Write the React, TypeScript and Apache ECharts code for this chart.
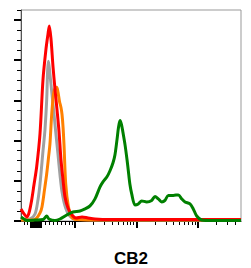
import React, { useEffect, useRef } from "react";
import * as echarts from "echarts";

// x values are in log10 display units (logicle-like axis), y values are event counts
const redX = [1.122, 1.171, 1.22, 1.252, 1.296, 1.333, 1.377, 1.431, 1.48, 1.528, 1.561, 1.582, 1.61, 1.642, 1.675, 1.707, 1.74, 1.772, 1.805, 1.837, 1.886, 1.951, 2.016, 2.114, 2.211, 2.325, 2.569, 3.057, 3.545, 4.033, 4.699];
const redY = [12, 7, 4, 8, 21, 36, 54, 87, 141, 171, 186, 194, 181, 154, 131, 111, 89, 61, 41, 24, 13, 6, 3, 4, 3, 2, 1.5, 1.5, 1.5, 1.5, 1.5];

const grayX = [1.122, 1.268, 1.35, 1.398, 1.431, 1.48, 1.512, 1.54, 1.556, 1.569, 1.593, 1.626, 1.659, 1.691, 1.724, 1.756, 1.789, 1.837, 1.902, 2.0, 2.5, 3.5, 4.699];
const grayY = [1, 2, 7, 21, 37, 70, 91, 121, 151, 159, 146, 126, 106, 86, 66, 46, 29, 15, 6, 2, 1, 1, 1];

const orangeX = [1.122, 1.317, 1.377, 1.431, 1.463, 1.504, 1.54, 1.569, 1.593, 1.621, 1.65, 1.675, 1.702, 1.724, 1.748, 1.772, 1.789, 1.805, 1.821, 1.849, 1.891, 1.946, 2.016, 2.5, 3.5, 4.699];
const orangeY = [1, 1, 3, 8, 14, 31, 47, 63, 77, 106, 126, 132, 133, 128, 119, 113, 106, 94, 76, 37, 15, 4, 1.5, 1, 1, 1];

const greenX = [1.122, 1.171, 1.22, 1.35, 1.48, 1.54, 1.577, 1.675, 1.756, 1.865, 1.967, 2.081, 2.163, 2.244, 2.325, 2.407, 2.455, 2.52, 2.569, 2.618, 2.65, 2.683, 2.707, 2.732, 2.756, 2.78, 2.813, 2.846, 2.867, 2.894, 2.922, 2.976, 3.029, 3.085, 3.166, 3.247, 3.301, 3.354, 3.41, 3.463, 3.517, 3.598, 3.68, 3.735, 3.789, 3.87, 3.923, 3.979, 4.06, 4.223, 4.699];
const greenY = [4, 2, 0.5, 1, 1.5, 5, 2, 0.5, 2, 6, 9, 10, 12, 15, 22, 34, 39, 44, 50, 58, 66, 81, 93, 100, 96, 88, 76, 61, 50, 36, 27, 16, 17, 20, 19, 20.5, 24.5, 22, 19, 20.5, 25.5, 25.5, 26, 22, 19, 17, 12, 5, 1, 0.5, 0.5];

// axis tick positions
const xMin = 1.122;
const xMax = 4.699;
const xMajorTicks = [1.285, 1.317, 1.35, 1.382, 1.415, 1.447, 2, 3, 4];
const xLeftMinorTicks = [1.171, 1.22, 1.512, 1.577, 1.642, 1.707, 1.772, 1.837, 1.902, 1.951];
const decades = [2, 3, 4];
const decadeMultipliers = [2, 3, 4, 5, 6, 7, 8, 9];
const yMax = 210;
const yMajorTicks = [0, 40, 80, 120, 160, 200];
const yMinorTicks = [10, 20, 30, 50, 60, 70, 90, 100, 110, 130, 140, 150, 170, 180, 190, 210];
const xTitle = "CB2";

const pairs = (xs: number[], ys: number[]) => xs.map((x, i) => [x, ys[i]]);

export default function App() {
  const ref = useRef<HTMLDivElement>(null);
  useEffect(() => {
    if (!ref.current) return;
    const chart = echarts.init(ref.current, null, { renderer: "svg" });
    const xMinor: number[] = [...xLeftMinorTicks];
    decades.forEach((d) =>
      decadeMultipliers.forEach((k) => {
        const v = d + Math.log10(k);
        if (v < xMax - 0.01) xMinor.push(v);
      })
    );
    const font = 'Arial, "Liberation Sans", sans-serif';
    const lineSeries = (name: string, color: string, xs: number[], ys: number[]) => ({
      name,
      type: "line",
      data: pairs(xs, ys),
      showSymbol: false,
      smooth: 0.3,
      xAxisIndex: 0,
      yAxisIndex: 0,
      lineStyle: { color, width: 3 },
      itemStyle: { color },
    });
    chart.setOption({
      animation: false,
      grid: {
        left: 21,
        right: 10,
        top: 10,
        bottom: 47,
        show: true,
        borderColor: "#999",
        borderWidth: 1,
        containLabel: false,
        outerBoundsMode: "none",
      },
      xAxis: [
        {
          type: "value",
          min: xMin,
          max: xMax,
          position: "bottom",
          axisLine: { show: true, lineStyle: { color: "#000", width: 1 } },
          axisTick: { show: true, customValues: xMajorTicks, length: 7, lineStyle: { color: "#000", width: 2 } },
          axisLabel: { show: false },
          splitLine: { show: false },
          name: xTitle,
          nameLocation: "middle",
          nameGap: 29,
          nameTextStyle: { fontSize: 17, fontWeight: "bold", color: "#000", fontFamily: font },
        },
        {
          type: "value",
          min: xMin,
          max: xMax,
          position: "bottom",
          offset: 0,
          axisLine: { show: false },
          axisTick: { show: true, customValues: xMinor, length: 4, lineStyle: { color: "#000", width: 1 } },
          axisLabel: { show: false },
          splitLine: { show: false },
        },
      ],
      yAxis: [
        {
          type: "value",
          min: 0,
          max: yMax,
          position: "left",
          axisLine: { show: true, lineStyle: { color: "#555", width: 1 } },
          axisTick: { show: true, customValues: yMajorTicks, length: 7, lineStyle: { color: "#000", width: 2 } },
          axisLabel: { show: false },
          splitLine: { show: false },
        },
        {
          type: "value",
          min: 0,
          max: yMax,
          position: "left",
          offset: 0,
          axisLine: { show: false },
          axisTick: { show: true, customValues: yMinorTicks, length: 4, lineStyle: { color: "#000", width: 1 } },
          axisLabel: { show: false },
          splitLine: { show: false },
        },
      ],
      series: [
        lineSeries("gray", "#a0a0a0", grayX, grayY),
        lineSeries("orange", "#ff8000", orangeX, orangeY),
        lineSeries("red", "#ff0000", redX, redY),
        lineSeries("green", "#008000", greenX, greenY),
      ],
    });
    return () => chart.dispose();
  }, []);
  return (
    <div
      ref={ref}
      style={{ position: "fixed", left: 0, top: 0, width: 251, height: 268, background: "#fff" }}
    />
  );
}
